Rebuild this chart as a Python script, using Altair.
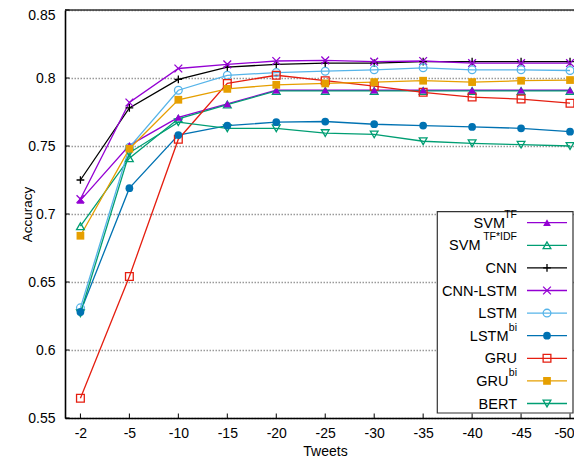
import json
import altair as alt
import pandas as pd

# ---------------- data ----------------
x_labels = ["-2", "-5", "-10", "-15", "-20", "-25", "-30", "-35", "-40", "-45", "-50"]
series_keys = ["SVM_TF", "SVM_TFIDF", "CNN", "CNN_LSTM", "LSTM", "LSTM_bi", "GRU", "GRU_bi", "BERT"]
base_labels = ["SVM", "SVM", "CNN", "CNN-LSTM", "LSTM", "LSTM", "GRU", "GRU", "BERT"]
sup_labels = ["TF", "TF*IDF", "", "", "", "bi", "", "bi", ""]

svm_tf = [0.710, 0.7505, 0.771, 0.781, 0.791, 0.791, 0.791, 0.791, 0.791, 0.791, 0.791]
svm_tfidf = [0.691, 0.741, 0.770, 0.7805, 0.7905, 0.7905, 0.7905, 0.7905, 0.7905, 0.7905, 0.7905]
cnn = [0.725, 0.778, 0.799, 0.808, 0.810, 0.811, 0.811, 0.812, 0.812, 0.812, 0.812]
cnn_lstm = [0.711, 0.782, 0.807, 0.810, 0.8125, 0.813, 0.812, 0.8125, 0.811, 0.811, 0.811]
lstm = [0.631, 0.749, 0.791, 0.802, 0.804, 0.805, 0.806, 0.8075, 0.806, 0.806, 0.8055]
lstm_bi = [0.628, 0.719, 0.758, 0.765, 0.7675, 0.768, 0.766, 0.765, 0.764, 0.763, 0.7605]
gru = [0.5645, 0.654, 0.755, 0.796, 0.802, 0.798, 0.794, 0.7895, 0.786, 0.7845, 0.7815]
gru_bi = [0.684, 0.748, 0.784, 0.792, 0.795, 0.796, 0.797, 0.798, 0.797, 0.798, 0.7985]
bert = [0.627, 0.745, 0.7675, 0.763, 0.763, 0.7595, 0.7585, 0.7535, 0.752, 0.751, 0.750]

y_ticks = [0.55, 0.6, 0.65, 0.7, 0.75, 0.8, 0.85]

values_by_series = [svm_tf, svm_tfidf, cnn, cnn_lstm, lstm, lstm_bi, gru, gru_bi, bert]

# ---------------- styles ----------------
colors = ["#9400d3", "#009e73", "#000000", "#9400d3", "#56b4e9", "#0072b2", "#e51e10", "#e69f00", "#009e73"]
plus_path = "M-1,0L1,0M0,-1L0,1"
cross_path = "M-1,-1L1,1M-1,1L1,-1"
shapes = ["triangle-up", "triangle-up", plus_path, cross_path, "circle", "circle", "square", "square", "triangle-down"]
sizes = [60, 60, 80, 75, 52, 52, 52, 52, 60]
filled_keys = ["SVM_TF", "LSTM_bi", "GRU_bi"]
open_keys = [k for k in series_keys if k not in filled_keys]
sup_width = {"TF": 12, "TF*IDF": 36.5, "bi": 8.5, "": 0}

FONT = "Liberation Sans"
W, H = 509, 408

rows = []
for key, vals in zip(series_keys, values_by_series):
    for i, v in enumerate(vals):
        rows.append({"series": key, "idx": i, "acc": v})
df = pd.DataFrame(rows)

leg_df = pd.DataFrame({
    "series": series_keys,
    "base": base_labels,
    "sup": sup_labels,
    "row": list(range(len(series_keys))),
})

color_scale = alt.Scale(domain=series_keys, range=colors)
shape_scale = alt.Scale(domain=series_keys, range=shapes)
size_scale = alt.Scale(domain=series_keys, range=sizes)

label_expr = json.dumps(x_labels) + "[datum.value]"
last_idx = len(x_labels) - 1


def X():
    return alt.X(
        "idx:Q",
        title="Tweets",
        scale=alt.Scale(domain=[-0.315, 10.081], nice=False, zero=False),
        axis=alt.Axis(
            values=list(range(len(x_labels))),
            labelExpr=label_expr,
            grid=False,
            ticks=False,
            tickSize=0,
            domainColor="#000000",
            domainWidth=1.6,
            labelFont=FONT,
            labelFontSize=14,
            labelColor="#000000",
            labelBaseline="alphabetic",
            labelPadding=19.5,
            labelOffset={"condition": {"test": f"datum.value >= {last_idx}", "value": -6}, "value": 0},
            titleFont=FONT,
            titleFontSize=14,
            titleFontWeight="normal",
            titleColor="#000000",
            titleBaseline="alphabetic",
            titleY=37,
            titleX=260,
        ),
    )


def Y():
    return alt.Y(
        "acc:Q",
        title="Accuracy",
        scale=alt.Scale(domain=[0.55, 0.85], nice=False, zero=False),
        axis=alt.Axis(
            values=y_ticks,
            format="~g",
            grid=True,
            gridColor="#9a9a9a",
            gridDash=[1.5, 1.5],
            gridWidth=1.3,
            ticks=False,
            tickSize=0,
            domainColor="#000000",
            domainWidth=1.6,
            labelFont=FONT,
            labelFontSize=14,
            labelColor="#000000",
            labelPadding=10,
            labelOffset={"condition": {"test": "datum.value >= 0.849", "value": 5}, "value": 0},
            titleFont=FONT,
            titleFontSize=13.5,
            titleFontWeight="normal",
            titleColor="#000000",
            titleX=-38,
            titleY=204,
            titleBaseline="middle",
            titleAlign="center",
        ),
    )


base = alt.Chart(df)

top_rule = alt.Chart(pd.DataFrame({"acc": [0.85]})).mark_rule(
    color="#333333", strokeWidth=1.6
).encode(y=Y())

xtick_df = pd.DataFrame({"idx": list(range(len(x_labels)))})
xticks = alt.Chart(xtick_df).mark_rule(color="#000000", strokeWidth=1).encode(
    x=X(), y=alt.value(H), y2=alt.value(H - 4.5)
)

ytick_df = pd.DataFrame({"acc": y_ticks})
yticks = alt.Chart(ytick_df).mark_rule(color="#000000", strokeWidth=1).encode(
    y=Y(), x=alt.value(0), x2=alt.value(4.5)
)

lines = base.mark_line(strokeWidth=1.3).encode(
    x=X(), y=Y(),
    color=alt.Color("series:N", scale=color_scale, legend=None),
)

pts_open = base.transform_filter(
    alt.FieldOneOfPredicate(field="series", oneOf=open_keys)
).mark_point(filled=False, strokeWidth=1.3, opacity=1).encode(
    x=X(), y=Y(),
    color=alt.Color("series:N", scale=color_scale, legend=None),
    shape=alt.Shape("series:N", scale=shape_scale, legend=None),
    size=alt.Size("series:N", scale=size_scale, legend=None),
)

pts_filled = base.transform_filter(
    alt.FieldOneOfPredicate(field="series", oneOf=filled_keys)
).mark_point(filled=True, opacity=1).encode(
    x=X(), y=Y(),
    color=alt.Color("series:N", scale=color_scale, legend=None),
    shape=alt.Shape("series:N", scale=shape_scale, legend=None),
    size=alt.Size("series:N", scale=size_scale, legend=None),
)

main = alt.layer(top_rule, lines, pts_open, pts_filled, xticks, yticks)

# ---------------- manual legend ----------------
LX_TEXT = 452
LY = alt.Y("row:O", scale=alt.Scale(type="point", range=[212.7, 393.5], padding=0), axis=None)

leg_box = alt.Chart(pd.DataFrame({"a": [0]})).mark_rect(
    fill="#ffffff", stroke="#333333", strokeWidth=1.2
).encode(x=alt.value(372.3), x2=alt.value(508), y=alt.value(201.7), y2=alt.value(403))

leg = alt.Chart(leg_df)

leg_lines = leg.mark_rule(strokeWidth=1.3).encode(
    x=alt.value(462), x2=alt.value(502), y=LY,
    color=alt.Color("series:N", scale=color_scale, legend=None),
)

leg_open = leg.transform_filter(
    alt.FieldOneOfPredicate(field="series", oneOf=open_keys)
).mark_point(filled=False, strokeWidth=1.3, opacity=1).encode(
    x=alt.value(482), y=LY,
    color=alt.Color("series:N", scale=color_scale, legend=None),
    shape=alt.Shape("series:N", scale=shape_scale, legend=None),
    size=alt.Size("series:N", scale=size_scale, legend=None),
)

leg_filled = leg.transform_filter(
    alt.FieldOneOfPredicate(field="series", oneOf=filled_keys)
).mark_point(filled=True, opacity=1).encode(
    x=alt.value(482), y=LY,
    color=alt.Color("series:N", scale=color_scale, legend=None),
    shape=alt.Shape("series:N", scale=shape_scale, legend=None),
    size=alt.Size("series:N", scale=size_scale, legend=None),
)

sup_expr = " : ".join(
    f"datum.sup == '{k}' ? {v}" for k, v in sup_width.items()
) + " : 0"

leg_base_text = leg.transform_calculate(
    bx=f"{LX_TEXT} - ({sup_expr})"
).mark_text(
    align="right", baseline="middle", font=FONT, fontSize=14.5, color="#000000", dy=1
).encode(
    x=alt.X("bx:Q", scale=None, axis=None), y=LY, text="base:N"
)

leg_sup_text = leg.mark_text(
    align="right", baseline="middle", font=FONT, fontSize=10.5, color="#000000", dy=-8
).encode(
    x=alt.value(LX_TEXT), y=LY, text="sup:N"
)

legend = alt.layer(leg_box, leg_lines, leg_open, leg_filled, leg_base_text, leg_sup_text)

chart = alt.layer(main, legend).resolve_scale(y="independent", x="independent").properties(
    width=W,
    height=H,
    autosize=alt.AutoSizeParams(type="none"),
    padding={"left": 57, "top": 2, "right": 0, "bottom": 40},
).configure_view(stroke=None).configure(background="#ffffff")

chart.save("out.html", embed_options={"renderer": "svg", "actions": False})
